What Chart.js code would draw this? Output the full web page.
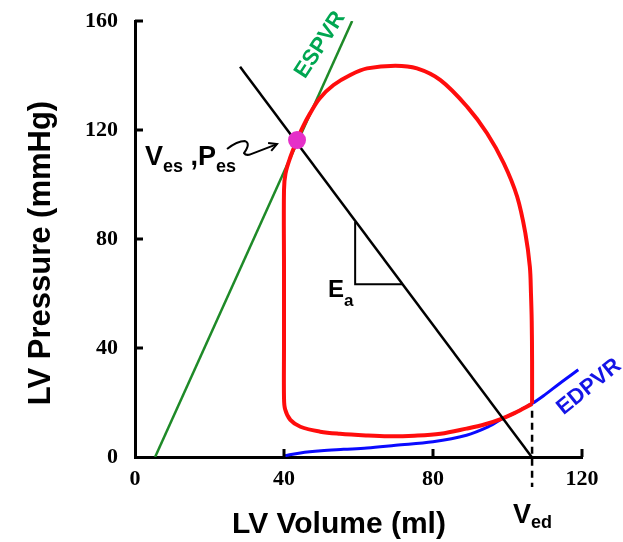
<!DOCTYPE html>
<html>
<head>
<meta charset="utf-8">
<script src="https://cdn.jsdelivr.net/npm/chart.js@4/dist/chart.umd.min.js"></script>
<style>
  body { margin: 0; background: #fff; }
  canvas { display: block; }
</style>
</head>
<body>
<canvas id="pv" width="623" height="542"></canvas>
<script>
// Axis ticks
const xTicks = [0, 40, 80, 120];
const yTicks = [0, 40, 80, 120, 160];

// PV loop (starts and ends at end-diastole)
const loopV = [106.6, 106.6, 106.5, 106.3, 106.0, 104.8, 102.6, 99.0, 94.5, 89.2, 82.0, 75.7, 69.9, 62.3, 57.8, 53.3, 49.5, 47.0, 45.0, 43.5,
               41.7, 40.4, 40.0, 40.0, 40.0, 40.0, 40.3, 41.7, 44.4, 49.7, 55.0, 62.0, 68.0, 75.0, 82.0, 89.0, 94.0, 98.0, 102.0, 106.6];
const loopP = [19.5, 35.0, 50.0, 60.0, 69.8, 82.1, 95.5, 107.8, 118.8, 128.5, 138.3, 142.6, 143.6, 142.6, 140.2, 136.5, 131.5, 126.1, 121.0, 116.3,
               110.0, 104.0, 98.0, 70.0, 40.0, 22.0, 17.5, 13.6, 11.1, 9.3, 8.5, 7.9, 7.6, 7.8, 8.5, 10.4, 12.0, 13.8, 16.2, 19.5];

// ESPVR (end-systolic pressure-volume relation)
const espvrV = [5.4, 58.3];
const espvrP = [0, 160];

// EDPVR (end-diastolic pressure-volume relation)
const edpvrV = [40, 44.4, 50, 56, 62.3, 70, 80, 89, 95, 98, 102, 106.6, 110, 114, 119];
const edpvrP = [0.4, 1.5, 2.3, 2.8, 3.3, 4.3, 5.6, 8.0, 11.2, 13.6, 16.2, 19.6, 22.8, 27.0, 32.0];

// Arterial elastance line and its slope triangle
const eaV = [28.2, 106.5];
const eaP = [143.2, 0];
const triV = [59.1, 59.1, 71.8];
const triP = [86.3, 63.4, 63.4];

// End-systolic point, end-diastolic volume marker
const esV = [43.5];
const esP = [116.3];
const vedV = [106.6, 106.6];
const vedP = [17, -11];

const pts = (xs, ys) => xs.map((v, i) => ({ x: v, y: ys[i] }));

const annot = {
  id: 'annot',
  afterDraw(chart) {
    const { ctx, chartArea: ca, scales: { x, y } } = chart;
    ctx.save();

    // inward tick marks
    ctx.strokeStyle = '#000';
    ctx.lineWidth = 3;
    ctx.beginPath();
    yTicks.forEach(v => {
      if (v === 0) return;
      const py = y.getPixelForValue(v);
      ctx.moveTo(ca.left, py); ctx.lineTo(ca.left + 8, py);
    });
    xTicks.forEach(v => {
      if (v === 0) return;
      const px = x.getPixelForValue(v);
      ctx.moveTo(px, ca.bottom); ctx.lineTo(px, ca.bottom - 8);
    });
    ctx.stroke();

    // axis titles
    ctx.fillStyle = '#000';
    ctx.font = 'bold 30px "Liberation Sans", Arial, sans-serif';
    ctx.textAlign = 'center';
    ctx.textBaseline = 'alphabetic';
    ctx.fillText('LV Volume (ml)', 339, 533);
    ctx.save();
    ctx.translate(50, 253);
    ctx.rotate(-Math.PI / 2);
    ctx.font = 'bold 31px "Liberation Sans", Arial, sans-serif';
    ctx.fillText('LV Pressure (mmHg)', 0, 0);
    ctx.restore();

    // text with subscript
    function sub(parts, px, py, color) {
      ctx.fillStyle = color || '#000';
      ctx.textAlign = 'left';
      ctx.textBaseline = 'alphabetic';
      let cx = px;
      parts.forEach(p => {
        ctx.font = 'bold ' + p.size + 'px "Liberation Sans", Arial, sans-serif';
        ctx.fillText(p.t, cx, py + (p.drop || 0));
        cx += ctx.measureText(p.t).width + (p.gap || 0);
      });
    }
    sub([{ t: 'V', size: 27 }, { t: 'es', size: 18, drop: 7 }, { t: ' ,', size: 27 }, { t: 'P', size: 27 }, { t: 'es', size: 18, drop: 7 }],
        x.getPixelForValue(2.7), y.getPixelForValue(107.2));
    sub([{ t: 'E', size: 24 }, { t: 'a', size: 17, drop: 9 }],
        x.getPixelForValue(51.8), y.getPixelForValue(58.7));
    sub([{ t: 'V', size: 27 }, { t: 'ed', size: 18, drop: 5 }],
        x.getPixelForValue(101.5), y.getPixelForValue(-24.2));

    // rotated relation labels
    function rot(t, v, p, ang, color) {
      ctx.save();
      ctx.translate(x.getPixelForValue(v), y.getPixelForValue(p));
      ctx.rotate(ang * Math.PI / 180);
      ctx.font = 'bold 22px "Liberation Sans", Arial, sans-serif';
      ctx.fillStyle = color;
      ctx.textAlign = 'center';
      ctx.textBaseline = 'middle';
      ctx.fillText(t, 0, 0);
      ctx.restore();
    }
    rot('ESPVR', 49.7, 151.2, -57, '#00a651');
    rot('EDPVR', 121.9, 25.7, -39, '#1414e6');

    // squiggle arrow pointing at the end-systolic point
    const ox = x.getPixelForValue(esV[0]);
    const oy = y.getPixelForValue(esP[0]);
    ctx.strokeStyle = '#000';
    ctx.lineWidth = 2;
    ctx.beginPath();
    ctx.moveTo(ox - 70, oy + 9);
    ctx.quadraticCurveTo(ox - 60, oy + 1, ox - 52, oy + 1);
    ctx.quadraticCurveTo(ox - 46, oy + 3, ox - 53, oy + 13);
    ctx.quadraticCurveTo(ox - 51, oy + 16, ox - 46, oy + 14);
    ctx.lineTo(ox - 20, oy + 4);
    ctx.stroke();
    const ang = Math.atan2(-10, 26);
    const hx = ox - 20, hy = oy + 4;
    ctx.beginPath();
    ctx.moveTo(hx - 9 * Math.cos(ang - 0.5), hy - 9 * Math.sin(ang - 0.5));
    ctx.lineTo(hx, hy);
    ctx.lineTo(hx - 9 * Math.cos(ang + 0.5), hy - 9 * Math.sin(ang + 0.5));
    ctx.stroke();

    ctx.restore();
  }
};

new Chart(document.getElementById('pv'), {
  type: 'scatter',
  data: {
    datasets: [
      { data: pts(esV, esP), pointRadius: 9, pointBackgroundColor: '#e530c8', pointBorderWidth: 0, showLine: false },
      { data: pts(eaV, eaP), showLine: true, borderColor: '#000', borderWidth: 2.5, pointRadius: 0 },
      { data: pts(triV, triP), showLine: true, borderColor: '#000', borderWidth: 2, pointRadius: 0 },
      { data: pts(loopV, loopP), showLine: true, borderColor: '#ff0d0d', borderWidth: 4, pointRadius: 0, tension: 0.35 },
      { data: pts(edpvrV, edpvrP), showLine: true, borderColor: '#0a0aff', borderWidth: 3, pointRadius: 0, tension: 0.35 },
      { data: pts(espvrV, espvrP), showLine: true, borderColor: '#1e8a28', borderWidth: 2.5, pointRadius: 0 },
      { data: pts(vedV, vedP), showLine: true, borderColor: '#000', borderWidth: 2.5, borderDash: [7, 5], pointRadius: 0, clip: false }
    ]
  },
  options: {
    responsive: false,
    animation: false,
    layout: { padding: { top: 21, right: 41, left: 0, bottom: 0 } },
    plugins: { legend: { display: false }, tooltip: { enabled: false } },
    scales: {
      x: {
        type: 'linear', min: 0, max: 120,
        afterBuildTicks: s => { s.ticks = xTicks.map(v => ({ value: v })); },
        afterFit: s => { s.height = 85; s.paddingLeft = 0; s.paddingRight = 0; },
        ticks: { padding: 9, color: '#000', font: { family: '"Liberation Serif", "Times New Roman", serif', weight: 'bold', size: 22 } },
        grid: { display: false, drawTicks: false },
        border: { display: true, color: '#000', width: 3 }
      },
      y: {
        type: 'linear', min: 0, max: 160,
        afterBuildTicks: s => { s.ticks = yTicks.map(v => ({ value: v })); },
        afterFit: s => { s.width = 135; s.paddingTop = 0; s.paddingBottom = 0; },
        ticks: { padding: 17, color: '#000', font: { family: '"Liberation Serif", "Times New Roman", serif', weight: 'bold', size: 22 } },
        grid: { display: false, drawTicks: false },
        border: { display: true, color: '#000', width: 3 }
      }
    }
  },
  plugins: [annot]
});
</script>
</body>
</html>
